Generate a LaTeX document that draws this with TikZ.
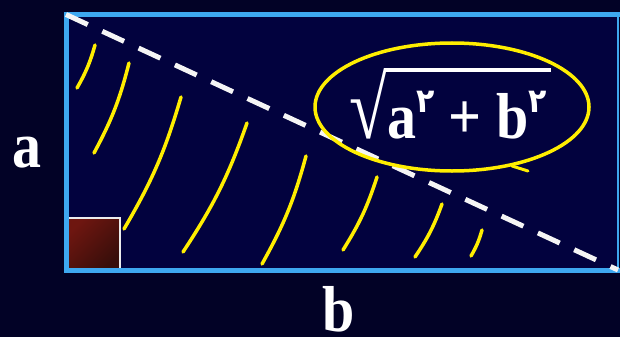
\documentclass[tikz,border=0pt]{standalone}
\usepackage{graphicx}
\usepackage{fontspec}
\setmainfont{Liberation Serif}
\newfontfamily\arabicfont[Script=Arabic]{DejaVu Sans}
\newcommand{\twoar}{\raisebox{23pt}{\arabicfont\fontsize{30}{30}\selectfont ٢}}
\newsavebox{\radbox}
\newcommand{\bigroot}[1]{\sbox{\radbox}{#1}%
	\resizebox{38pt}{62.5pt}{√}\kern-2pt%
	\raisebox{59pt}{\rlap{\rule{\dimexpr\wd\radbox+6pt\relax}{3.5pt}}}\kern2pt\usebox{\radbox}}
\begin{document}
\begin{tikzpicture}[x=1pt, y=-1pt, font=\bfseries\fontsize{58}{64}\selectfont]
		\definecolor{navy}{RGB}{2, 2, 38}
		\definecolor{innernavy}{RGB}{2, 2, 62}
		\definecolor{edgeblue}{RGB}{62, 168, 240}
		\definecolor{hatch}{RGB}{255, 238, 0}
		\definecolor{darkred}{RGB}{110, 22, 16}
		\definecolor{deepred}{RGB}{55, 14, 10}
		\tikzset{label text/.style={text=white, anchor=base, inner sep=0pt, yscale=1.12, transform shape}}
		
		% 背景
		\useasboundingbox (0,0) rectangle (620,337);
		\fill[navy] (0,0) rectangle (620,337);
		\fill[innernavy] (66,14.5) rectangle (618,270);
		
		% 顶点
		\coordinate (A) at (66,14.5);
		\coordinate (C) at (66,270);
		\coordinate (B) at (618,270);
		\coordinate (D) at (618,14.5);
		
		% 直角标记
		\draw[white!85!gray, line width=1.5, left color=darkred, right color=deepred, shading angle=45]
			(68,218) rectangle (120,270);
		
		% 阴影曲线
		\foreach \tx/\ty/\bx/\by in {95/45/77/88, 129/63/94/153, 181/97/124/229, 247/123/183/252,
			306/156/262/264, 377/177/343/250, 442/204/415/257, 482/230/471/256}
			\draw[hatch, line width=3.5, line cap=round] (\tx,\ty) to[bend left=7] (\bx,\by);
		
		% 矩形边
		\draw[edgeblue, line width=5] (621,14.5) -- (A) -- (C) -- (621,270);
		\draw[edgeblue, line width=2] (D) -- (B);
		
		% 对角线（虚线）
		\draw[white!92!gray, line width=5, dash pattern=on 24pt off 16pt] (A) -- (B);
		
		% 椭圆
		\draw[hatch, line width=3.5] (452,107) ellipse [x radius=137, y radius=64];
		\draw[hatch, line width=3, line cap=round] (512,166) -- (528,171);
		
		% 标签
		\node[label text] (sidea) at (27,167) {a};
		\node[label text] (sideb) at (339,331) {b};
		\node[label text] (hyp) at (448,138) {\bigroot{a\twoar{} + b\twoar}};
	\end{tikzpicture}
\end{document}
